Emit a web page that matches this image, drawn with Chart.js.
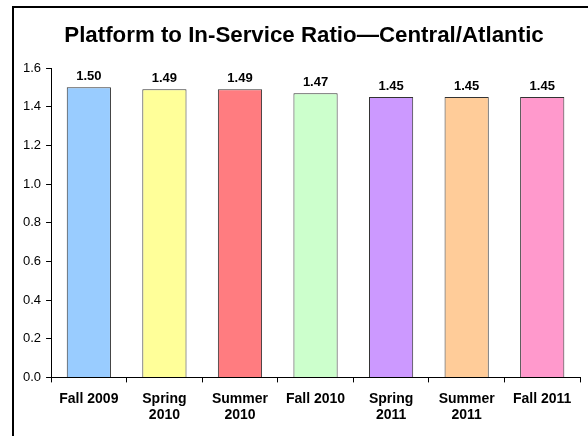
<!DOCTYPE html>
<html>
<head>
<meta charset="utf-8">
<script src="https://cdn.jsdelivr.net/npm/chart.js@4"></script>
<style>
  html, body { margin: 0; padding: 0; background: #fff; overflow: hidden; }
  #wrap { width: 588px; height: 436px; position: relative; }
</style>
</head>
<body>
<div id="wrap"><canvas id="ratioChart" width="588" height="436"></canvas></div>
<script>
// categories (multi-line labels) and values
const categories = [
  ['Fall 2009'], ['Spring', '2010'], ['Summer', '2010'], ['Fall 2010'],
  ['Spring', '2011'], ['Summer', '2011'], ['Fall 2011']
];
const ratios = [1.50, 1.49, 1.49, 1.47, 1.45, 1.45, 1.45];
const barColors = ['#99CCFF', '#FFFF99', '#FF7C80', '#CCFFCC', '#CC99FF', '#FFCC99', '#FF99CC'];
const yTicks = [0, 0.2, 0.4, 0.6, 0.8, 1.0, 1.2, 1.4, 1.6];
const titleText = 'Platform to In-Service Ratio\u2014Central/Atlantic';

const FONT = '"Liberation Sans", Arial, sans-serif';

// title, value labels above the bars, outer frame
const extras = {
  id: 'extras',
  afterDatasetsDraw(chart) {
    const ctx = chart.ctx;
    const meta = chart.getDatasetMeta(0);
    ctx.save();
    ctx.font = 'bold 13px ' + FONT;
    ctx.fillStyle = '#000';
    ctx.textAlign = 'center';
    ctx.textBaseline = 'alphabetic';
    meta.data.forEach((bar, i) => {
      ctx.fillText(ratios[i].toFixed(2), bar.x, bar.y - 7);
    });
    ctx.restore();
  },
  afterDraw(chart) {
    const ctx = chart.ctx;
    ctx.save();
    ctx.font = 'bold 22.3px ' + FONT;
    ctx.fillStyle = '#000';
    ctx.textAlign = 'center';
    ctx.textBaseline = 'middle';
    ctx.fillText(titleText, 304, 36);
    ctx.strokeStyle = '#000';
    ctx.lineWidth = 2;
    ctx.strokeRect(13, 7, 700, 700);
    ctx.restore();
  }
};

new Chart(document.getElementById('ratioChart').getContext('2d'), {
  type: 'bar',
  data: {
    labels: categories,
    datasets: [{
      data: ratios,
      backgroundColor: barColors,
      borderColor: '#333',
      borderWidth: 1,
      barPercentage: 0.585,
      categoryPercentage: 1
    }]
  },
  options: {
    responsive: false,
    animation: false,
    layout: { padding: { left: 18, right: 8, top: 68, bottom: 4 } },
    plugins: {
      legend: { display: false },
      tooltip: { enabled: false },
      title: { display: false }
    },
    scales: {
      x: {
        grid: { display: true, drawOnChartArea: false, drawTicks: true, tickLength: 5, color: '#000' },
        border: { color: '#000', width: 1 },
        ticks: {
          color: '#000',
          maxRotation: 0,
          padding: 8,
          font: { family: FONT, size: 14, weight: 'bold', lineHeight: 1.2 }
        }
      },
      y: {
        min: 0,
        max: 1.6,
        afterBuildTicks(axis) { axis.ticks = yTicks.map(v => ({ value: v })); },
        grid: { display: true, drawOnChartArea: false, drawTicks: true, tickLength: 5, color: '#000' },
        border: { color: '#000', width: 1 },
        ticks: {
          color: '#000',
          padding: 5,
          font: { family: FONT, size: 13 },
          callback: v => v.toFixed(1)
        }
      }
    }
  },
  plugins: [extras]
});
</script>
</body>
</html>
